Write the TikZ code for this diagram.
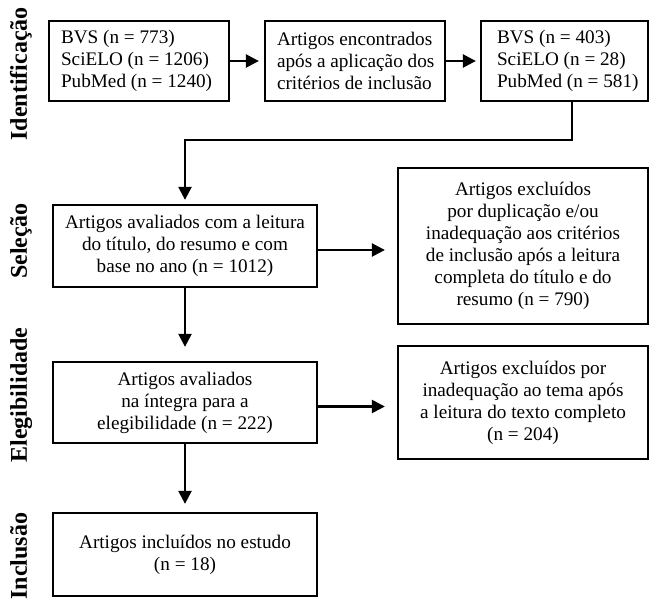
\documentclass[tikz,border=0pt]{standalone}
\usepackage{fontspec}
\setmainfont{Liberation Serif}
\usetikzlibrary{arrows.meta}
\begin{document}
\begin{tikzpicture}[x=1pt,y=-1pt,
  box/.style={draw, line width=2.3pt, inner sep=0pt, align=center,
              font=\fontsize{19.2}{22}\selectfont},
  ltxt/.style={inner sep=0pt, align=left, anchor=west,
              font=\fontsize{19.2}{22}\selectfont},
  stage/.style={font=\fontsize{24}{30}\selectfont\bfseries, rotate=90,
              anchor=base, inner sep=0pt},
  arr/.style={line width=2.4pt, -{Triangle[length=13pt,width=13pt]}}
]
\useasboundingbox (0,0) rectangle (650,602);

% stage labels
\node[stage] (s1) at (27,74) {Identificação};
\node[stage] (s2) at (27,241) {Seleção};
\node[stage] (s3) at (27,395) {Elegibilidade};
\node[stage] (s4) at (27,556) {Inclusão};

% top row
\node[box, minimum width=180pt, minimum height=80pt] (a) at (139,61) {};
\node[ltxt] (at) at ([xshift=13pt]a.west) {BVS (n = 773)\\SciELO (n = 1206)\\PubMed (n = 1240)};
\node[box, minimum width=180pt, minimum height=80pt] (b) at (355,61) {};
\node[ltxt] (bt) at ([xshift=13pt]b.west) {Artigos encontrados\\após a aplicação dos\\critérios de inclusão};
\node[box, minimum width=167pt, minimum height=80pt] (c) at (564.5,61) {};
\node[ltxt] (ct) at ([xshift=17pt]c.west) {BVS (n = 403)\\SciELO (n = 28)\\PubMed (n = 581)};

% left column
\node[box, minimum width=264pt, minimum height=82pt] (d) at (185,246)
  {Artigos avaliados com a leitura\\do título, do resumo e com\\base no ano (n = 1012)};
\node[box, minimum width=264pt, minimum height=81pt] (f) at (185,402.5)
  {Artigos avaliados\\na íntegra para a\\elegibilidade (n = 222)};
\node[box, minimum width=264pt, minimum height=83pt] (h) at (185,554.5)
  {Artigos incluídos no estudo\\(n = 18)};

% right column
\node[box, minimum width=250pt, minimum height=156pt] (e) at (523,246)
  {Artigos excluídos\\por duplicação e/ou\\inadequação aos critérios\\de inclusão após a leitura\\completa do título e do\\resumo (n = 790)};
\node[box, minimum width=250pt, minimum height=113pt] (g) at (523,402.5)
  {Artigos excluídos por\\inadequação ao tema após\\a leitura do texto completo\\(n = 204)};

% connectors
\coordinate (cx) at (572,140);
\draw[arr, shorten >=5pt] (a) -- (b);
\draw[arr, shorten >=4pt] (b) -- (c);
\draw[arr, shorten >=4pt] (cx |- c.south) -- (cx) -| (d.north);
\draw[arr, shorten >=12pt] ([yshift=-4pt]d.east) -- ([yshift=-4pt]d.east -| e.west);
\draw[arr, shorten >=14pt] (d) -- (f);
\draw[arr, shorten >=12pt] ([yshift=-4pt]f.east) -- ([yshift=-4pt]f.east -| g.west);
\draw[arr, shorten >=8pt] (f) -- (h);
\end{tikzpicture}
\end{document}
